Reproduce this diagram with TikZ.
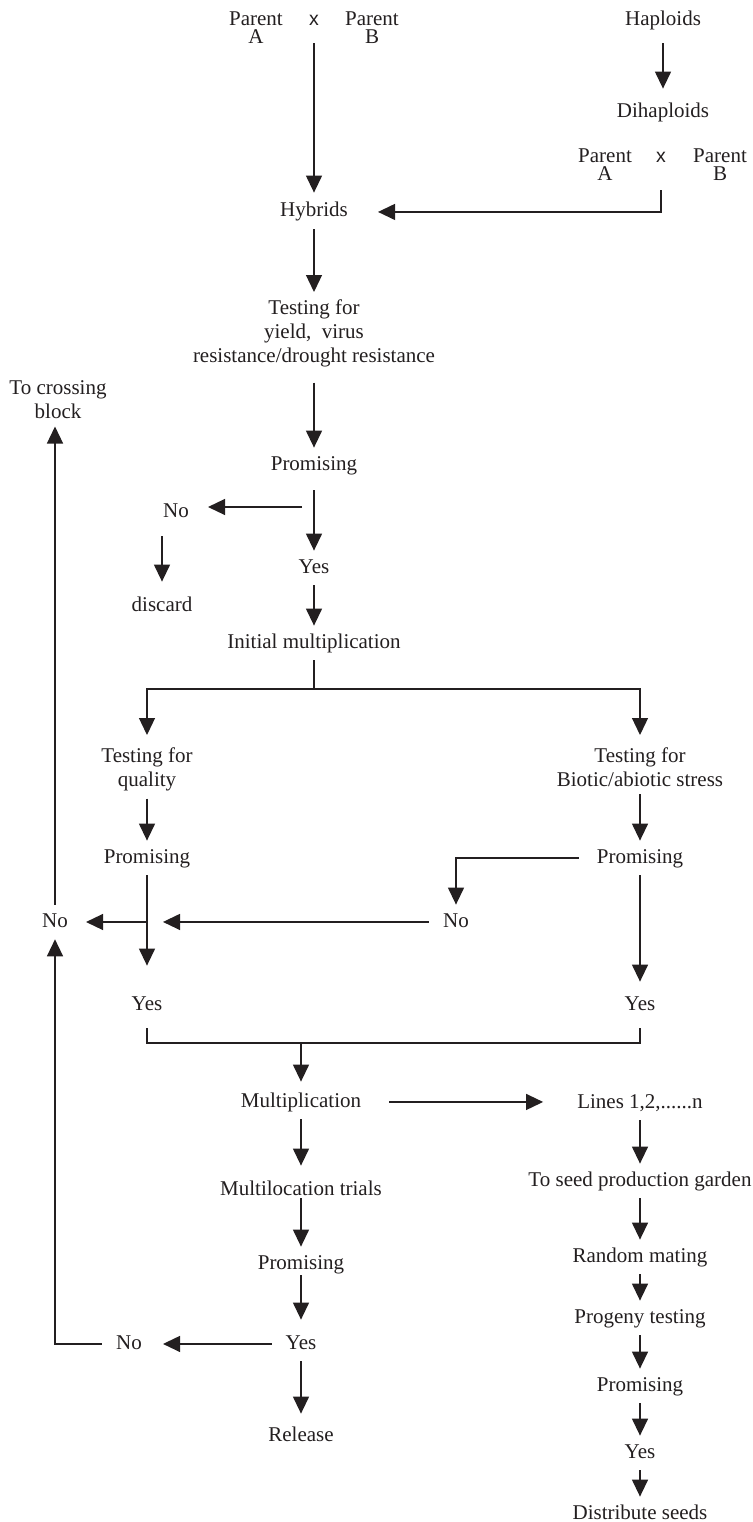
\documentclass[tikz,border=0pt]{standalone}
\usepackage{fontspec}
\setmainfont{Liberation Serif}
\newfontfamily\mysans{Liberation Sans}
\usetikzlibrary{arrows.meta}
\definecolor{ink}{RGB}{35,31,32}
\newcommand\mylbl{\fontsize{21}{24}\selectfont}
\newcommand\mypar{\fontsize{21}{18}\selectfont}
\begin{document}
\begin{tikzpicture}[x=1pt,y=-1pt]
\tikzset{
 lbl/.style={font=\mylbl, text=ink, text height=14.7pt, text depth=4.6pt, inner xsep=14pt, inner ysep=7.5pt, anchor=base},
 mlbl/.style={font=\mylbl, text=ink, align=center, inner xsep=14pt, inner ysep=7.5pt, anchor=north},
 plbl/.style={font=\mypar, text=ink, align=center, inner sep=0pt, anchor=north},
 xlbl/.style={font=\mysans\fontsize{19.5}{19.5}\selectfont, text=ink, inner sep=0pt, anchor=base},
 ln/.style={draw=ink, line width=1.3pt},
 arr/.style={ln, -{Triangle[length=17pt,width=16pt]}},
}
\path[use as bounding box, fill=white] (0,0) rectangle (752,1522);

% nodes
\node[plbl] (pa1) at (256,12) {Parent\\A};
\node[xlbl] (cx1) at (314,26) {x};
\node[plbl] (pb1) at (372,12) {Parent\\B};
\node[lbl] (hap) at (663,26) {Haploids};
\node[lbl] (dih) at (663,118) {Dihaploids};
\node[plbl] (pa2) at (605,149) {Parent\\A};
\node[xlbl] (cx2) at (661,163) {x};
\node[plbl] (pb2) at (720,149) {Parent\\B};
\node[lbl, inner xsep=30pt] (hyb) at (314,217) {Hybrids};
\node[mlbl] (test) at (314,292) {Testing for\\yield,\ \ virus\\resistance/drought resistance};
\node[mlbl] (cross) at (58,373) {To crossing\\block};
\node[lbl] (prom1) at (314,470) {Promising};
\node[lbl, inner xsep=19pt] (no1) at (176,517) {No};
\node[lbl] (yes1) at (314,573) {Yes};
\node[lbl] (disc) at (162,611) {discard};
\node[lbl] (im) at (314,648) {Initial multiplication};
\node[mlbl] (tq) at (147,740) {Testing for\\quality};
\node[mlbl] (tb) at (640,740) {Testing for\\Biotic/abiotic stress};
\node[lbl] (promL) at (147,863) {Promising};
\node[lbl, inner xsep=18pt] (promR) at (640,863) {Promising};
\node[lbl, inner xsep=18pt] (noL) at (55,927) {No};
\node[lbl] (noM) at (456,927) {No};
\node[lbl] (yesL) at (147,1010) {Yes};
\node[lbl] (yesR) at (640,1010) {Yes};
\node[lbl, inner xsep=28pt] (mult) at (301,1107) {Multiplication};
\node[lbl, inner xsep=34pt] (lines) at (640,1108) {Lines 1,2,......n};
\node[lbl] (mloc) at (301,1195) {Multilocation trials};
\node[lbl] (seed) at (640,1186) {To seed production garden};
\node[lbl] (prom3) at (301,1269) {Promising};
\node[lbl] (rand) at (640,1262) {Random mating};
\node[lbl] (prog) at (640,1323) {Progeny testing};
\node[lbl] (yes3) at (301,1349) {Yes};
\node[lbl] (noB) at (129,1349) {No};
\node[lbl] (prom4) at (640,1391) {Promising};
\node[lbl] (rel) at (301,1441) {Release};
\node[lbl] (yes4) at (640,1458) {Yes};
\node[lbl] (dist) at (640,1519) {Distribute seeds};

\coordinate (split) at (314,689);
\coordinate (b1) at (302,507);
\coordinate (j1) at (147,922);
\coordinate (j2) at (163,922);
\coordinate (merge) at (301,1043);

% connectors
\draw[arr, shorten <=5pt, shorten >=7pt] (hap) -- (dih);
\draw[arr, shorten <=17pt, shorten >=2pt] (cx1.south) -- (hyb.north);
\draw[arr, shorten <=27pt] (cx2.south) |- (hyb.east);
\draw[arr] (hyb) -- (test);
\draw[arr, shorten <=8pt] (test) -- (prom1);
\draw[arr, shorten <=8pt] (prom1) -- (yes1);
\draw[arr] (b1) -- (b1 -| no1.east);
\draw[arr, shorten <=7pt, shorten >=7pt] (no1.south -| disc.north) -- (disc.north);
\draw[arr] (yes1) -- (im);
\draw[ln] (im.south) -- (split);
\draw[arr, shorten >=5pt] (split) -| (tq.north);
\draw[arr, shorten >=5pt] (split) -| (tb.north);
\draw[arr] (tq) -- (promL);
\draw[arr] (tb) -- (promR);
\draw[arr, shorten >=22pt] (promL) -- (yesL);
\draw[arr] (j1) -- (j1 -| noL.east);
\draw[arr] (promR.west) -| (noM.north);
\draw[arr] (noM.west) -- (noM.west -| j2);
\draw[arr, shorten >=6pt] (promR) -- (yesR);
\draw[arr] (noL.north) -- (noL.north |- cross.south);
\draw[arr] (noB.west) -| (noL.south);
\draw[ln, shorten <=6pt, shorten >=6pt] (yesL.south) |- (merge) -| (yesR.south);
\draw[arr, shorten >=3pt] (merge) -- (mult.north);
\draw[arr] (mult.east) -- (mult.east -| lines.west);
\draw[arr, shorten >=7pt] (mult) -- (mloc);
\draw[arr, shorten <=-9pt] (mloc) -- (prom3);
\draw[arr, shorten <=-6pt, shorten >=7pt] (prom3) -- (yes3);
\draw[arr, shorten >=5pt] (yes3) -- (rel);
\draw[arr, shorten >=7pt] (yes3.west) -- (noB.east);
\draw[arr] (lines) -- (seed);
\draw[arr] (seed) -- (rand);
\draw[arr] (rand) -- (prog);
\draw[arr] (prog) -- (prom4);
\draw[arr] (prom4) -- (yes4);
\draw[arr] (yes4) -- (dist);
\end{tikzpicture}
\end{document}
